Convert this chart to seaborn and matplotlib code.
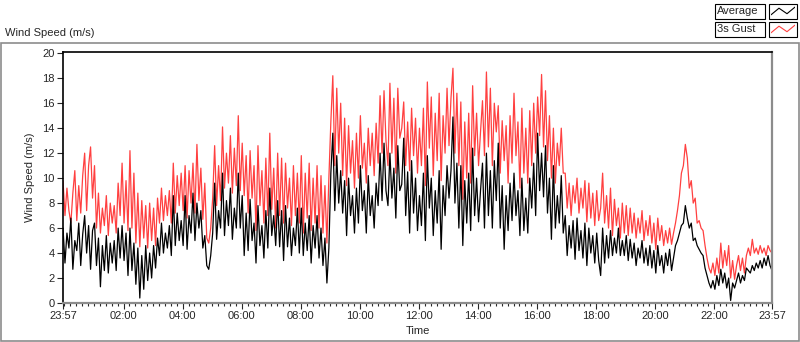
import numpy as np
import pandas as pd
import matplotlib.pyplot as plt
import seaborn as sns
from matplotlib.patches import Rectangle

# 4-minute samples starting at 23:57 (one row = one hour)
avg_speed = [
    6.0, 3.2, 5.6, 4.4, 6.8, 2.7, 5.0, 4.2, 6.4, 3.0, 5.5, 7.0, 4.0, 6.2, 2.7,
    5.8, 6.4, 3.0, 5.2, 1.3, 4.6, 2.6, 5.4, 2.4, 4.8, 3.2, 5.0, 2.6, 6.0, 3.6,
    6.2, 3.4, 5.6, 2.2, 6.0, 2.6, 4.8, 1.5, 4.4, 0.4, 3.8, 1.1, 4.6, 1.8, 4.0,
    2.0, 4.6, 2.8, 5.2, 3.8, 6.4, 4.0, 5.6, 4.4, 6.2, 3.8, 8.6, 4.6, 7.2, 5.0,
    6.6, 4.6, 8.6, 4.3, 7.0, 5.6, 8.8, 5.0, 8.0, 6.0, 7.4, 4.4, 5.4, 3.0, 2.7,
    3.8, 5.6, 9.6, 5.1, 7.4, 6.0, 10.4, 5.4, 8.2, 6.2, 9.2, 5.1, 7.6, 6.0, 10.4,
    6.0, 8.6, 3.8, 7.2, 4.2, 8.3, 5.0, 6.4, 3.2, 7.8, 4.6, 6.2, 3.6, 7.4, 4.4,
    9.2, 5.4, 7.0, 4.6, 8.2, 4.5, 7.4, 3.4, 7.8, 4.5, 6.8, 3.8, 6.0, 4.6, 7.6,
    4.0, 7.6, 3.8, 6.4, 4.2, 7.0, 3.2, 6.2, 4.4, 7.0, 3.6, 6.0, 3.0, 5.2, 1.6,
    4.4, 10.4, 13.6, 7.4, 11.8, 8.0, 10.6, 7.2, 9.8, 5.4, 10.0, 7.0, 8.6, 5.6, 9.2,
    6.4, 11.0, 7.4, 9.0, 5.6, 10.2, 7.0, 8.6, 6.0, 9.6, 7.8, 12.0, 8.2, 12.8, 9.0,
    7.8, 12.0, 8.4, 10.8, 6.8, 12.6, 9.0, 9.5, 13.2, 7.0, 10.5, 5.6, 11.4, 7.2, 10.0,
    5.8, 8.6, 6.2, 10.4, 5.0, 11.8, 7.6, 10.0, 5.4, 9.0, 6.4, 10.6, 4.3, 9.4, 7.0,
    11.0, 8.4, 10.6, 14.9, 8.0, 11.2, 6.0, 11.0, 4.6, 9.8, 6.4, 10.4, 5.8, 12.4, 7.0,
    10.0, 6.5, 9.0, 11.2, 6.0, 12.0, 7.0, 10.6, 6.0, 11.4, 8.2, 12.8, 6.0, 9.4, 4.3,
    8.6, 5.8, 9.6, 6.6, 10.4, 7.0, 9.0, 5.4, 10.0, 5.8, 8.4, 5.6, 10.0, 7.6, 11.2,
    7.0, 13.6, 9.0, 12.0, 8.5, 12.6, 7.2, 10.0, 5.1, 11.0, 6.0, 8.6, 6.4, 10.2, 5.6,
    7.0, 3.8, 6.2, 4.4, 6.6, 3.5, 6.8, 4.2, 5.8, 3.6, 6.4, 3.0, 6.0, 4.0, 5.4,
    3.2, 5.6, 3.4, 2.2, 6.0, 3.2, 5.4, 3.6, 5.8, 3.8, 5.2, 4.0, 6.0, 3.8, 5.0,
    3.8, 5.4, 3.4, 5.1, 3.6, 4.8, 3.0, 4.4, 3.6, 5.0, 3.2, 4.4, 3.0, 4.6, 2.8,
    4.2, 2.4, 4.6, 3.0, 3.8, 2.4, 4.0, 3.0, 4.3, 2.6, 3.6, 4.6, 5.0, 5.6, 6.2,
    6.4, 7.8, 6.8, 6.0, 6.4, 5.0, 5.2, 4.6, 4.3, 4.0, 3.8, 2.8, 2.2, 1.6, 1.2,
    1.8, 1.1, 2.2, 1.4, 2.7, 1.6, 2.4, 1.2, 2.0, 0.2, 1.6, 1.2, 1.8, 2.4, 1.6,
    2.2, 1.8, 2.8, 2.6, 2.4, 3.0, 2.6, 3.2, 2.8, 3.4, 2.8, 3.6, 3.0, 3.8, 3.0,
    2.6,
]
gust_speed = [
    9.8, 7.0, 9.2, 7.4, 6.4, 8.8, 10.6, 6.6, 9.4, 7.2, 10.2, 12.0, 7.4, 11.0, 12.5,
    8.4, 11.0, 6.0, 8.8, 5.6, 7.6, 6.2, 8.6, 5.4, 8.0, 6.4, 7.8, 5.6, 9.6, 7.0,
    11.2, 6.4, 9.8, 5.8, 12.2, 6.0, 10.4, 4.8, 8.8, 4.5, 8.2, 5.2, 7.8, 4.4, 8.0,
    5.0, 7.6, 4.6, 8.4, 6.4, 9.2, 6.6, 8.6, 7.0, 9.0, 6.4, 11.2, 7.2, 10.2, 7.8,
    10.4, 7.4, 11.0, 6.8, 10.6, 8.0, 11.2, 7.2, 12.7, 8.2, 10.8, 6.7, 9.6, 5.2, 4.8,
    6.0, 8.4, 12.6, 7.8, 11.0, 8.2, 14.1, 9.2, 12.0, 9.6, 13.4, 8.8, 12.4, 9.4, 15.0,
    9.0, 12.8, 8.6, 11.8, 7.2, 12.2, 8.4, 11.0, 5.8, 12.6, 7.8, 10.6, 6.4, 11.6, 7.0,
    13.6, 7.5, 10.8, 6.0, 12.0, 7.0, 11.6, 6.4, 11.2, 7.6, 10.0, 6.2, 11.0, 7.0, 10.4,
    6.4, 11.8, 5.6, 10.4, 6.8, 11.2, 5.8, 10.0, 6.4, 11.0, 6.0, 10.2, 5.6, 9.4, 4.8,
    10.0, 14.5, 18.2, 11.0, 17.2, 12.0, 16.0, 10.2, 14.8, 9.4, 14.2, 10.4, 13.0, 9.2, 13.6,
    10.0, 15.0, 10.8, 12.8, 9.6, 14.0, 11.0, 13.6, 10.2, 14.4, 11.2, 16.6, 12.0, 17.0, 13.0,
    11.0, 17.6, 12.0, 16.4, 10.4, 17.2, 13.2, 14.0, 16.1, 11.0, 14.5, 10.6, 15.6, 11.8, 14.8,
    10.4, 14.0, 11.0, 15.6, 9.4, 17.7, 12.4, 16.5, 10.2, 15.2, 11.4, 16.8, 9.8, 15.0, 12.0,
    17.2, 12.6, 16.4, 18.8, 12.0, 16.8, 11.0, 16.1, 8.3, 14.5, 10.0, 15.2, 9.6, 17.4, 11.8,
    15.2, 11.0, 13.7, 16.2, 11.8, 18.5, 12.5, 17.2, 11.0, 16.0, 13.7, 15.8, 10.4, 14.6, 11.4,
    14.2, 9.6, 15.0, 11.2, 16.8, 11.8, 14.5, 9.2, 15.6, 10.4, 14.0, 9.6, 15.4, 11.0, 16.0,
    12.0, 16.5, 13.4, 18.3, 12.5, 17.0, 11.4, 15.0, 10.0, 14.0, 9.6, 12.8, 11.0, 14.0, 10.4,
    10.4, 7.6, 9.6, 7.0, 9.4, 8.0, 10.0, 7.2, 9.2, 7.6, 9.8, 6.5, 9.6, 6.8, 8.8,
    6.2, 9.0, 6.6, 7.6, 10.4, 6.4, 8.6, 6.0, 9.2, 5.4, 8.3, 6.2, 7.6, 5.2, 8.0,
    5.6, 7.8, 5.4, 7.6, 5.6, 7.2, 5.2, 6.8, 5.6, 7.4, 5.0, 6.6, 5.4, 7.0, 4.8,
    6.4, 4.3, 6.8, 5.0, 6.2, 4.6, 5.8, 4.8, 6.0, 4.7, 5.6, 6.4, 7.4, 8.6, 10.4,
    11.0, 12.7, 11.6, 9.2, 9.8, 8.0, 8.4, 6.4, 6.6, 6.0, 5.8, 4.6, 3.6, 2.8, 2.4,
    3.2, 2.2, 3.6, 2.4, 4.8, 2.8, 4.2, 3.0, 4.6, 2.0, 3.4, 1.9, 3.0, 3.8, 2.6,
    3.6, 2.4, 3.8, 4.4, 3.8, 5.1, 4.0, 4.4, 3.9, 4.6, 4.0, 4.4, 3.8, 4.6, 4.2,
    4.0,
]
tick_labels = ["23:57", "02:00", "04:00", "06:00", "08:00", "10:00", "12:00",
               "14:00", "16:00", "18:00", "20:00", "22:00", "23:57"]
tick_minutes = [0, 123, 243, 363, 483, 603, 723, 843, 963, 1083, 1203, 1323, 1440]

df = pd.DataFrame({
    "minute": np.arange(len(avg_speed)) * 4,
    "Average": avg_speed,
    "3s Gust": gust_speed,
})

sns.set_style("white")
plt.rcParams["font.family"] = ["Liberation Sans", "DejaVu Sans"]

fig = plt.figure(figsize=(8, 3.42), dpi=100)
ax = fig.add_axes([63 / 800, 1 - 303 / 342, 709 / 800, 251 / 342])

sns.lineplot(data=df, x="minute", y="3s Gust", color="#ff4040", lw=0.9, ax=ax)
sns.lineplot(data=df, x="minute", y="Average", color="black", lw=0.9, ax=ax)

ax.set_xlim(0, 1440)
ax.set_ylim(0, 20.1)
ax.set_yticks(range(0, 21, 2))
ax.set_xticks(tick_minutes)
ax.set_xticklabels(tick_labels)
ax.set_xticks([m for m in range(3, 1440, 12)], minor=True)
ax.tick_params(axis="both", which="major", direction="out", length=4, width=0.8,
               labelsize=8, pad=2, left=True, bottom=True)
ax.tick_params(axis="x", which="minor", direction="out", length=2.5, width=0.8, bottom=True)
ax.set_xlabel("Time", fontsize=8, labelpad=3)
ax.set_ylabel("Wind Speed (m/s)", fontsize=8, labelpad=5)

for side in ["left", "top"]:
    ax.spines[side].set_color("black")
    ax.spines[side].set_linewidth(1.2)
for side in ["right", "bottom"]:
    ax.spines[side].set_color("#8c8c8c")
    ax.spines[side].set_linewidth(1.6)

# outer panel frame
fig.add_artist(Rectangle((0.5 / 800, 1.5 / 342), 798 / 800, 298 / 342,
                         transform=fig.transFigure, fill=False,
                         edgecolor="#8c8c8c", lw=1.2))
fig.text(5 / 800, 1 - 33 / 342, "Wind Speed (m/s)", fontsize=8, va="center", ha="left")

# legend boxes in the top right corner
for row, (name, col) in enumerate([("Average", "black"), ("3s Gust", "#ff4040")]):
    top = 4 + row * 18
    fig.add_artist(Rectangle((715 / 800, 1 - (top + 15) / 342), 50 / 800, 15 / 342,
                             transform=fig.transFigure, fill=True, facecolor="white",
                             edgecolor="black", lw=0.8))
    fig.text(717 / 800, 1 - (top + 7.5) / 342, name, fontsize=8, va="center", ha="left")
    fig.add_artist(Rectangle((769 / 800, 1 - (top + 15) / 342), 28 / 800, 15 / 342,
                             transform=fig.transFigure, fill=True, facecolor="white",
                             edgecolor="black", lw=0.8))
    icon = fig.add_axes([771 / 800, 1 - (top + 13) / 342, 24 / 800, 11 / 342])
    icon.set_zorder(5)
    icon.patch.set_alpha(0)
    icon.plot([0, 1, 2, 3], [0.2, 0.8, 0.3, 0.9], color=col, lw=0.8)
    icon.set_xlim(0, 3)
    icon.set_ylim(0, 1)
    icon.axis("off")

fig.savefig("out.png", dpi=100)
